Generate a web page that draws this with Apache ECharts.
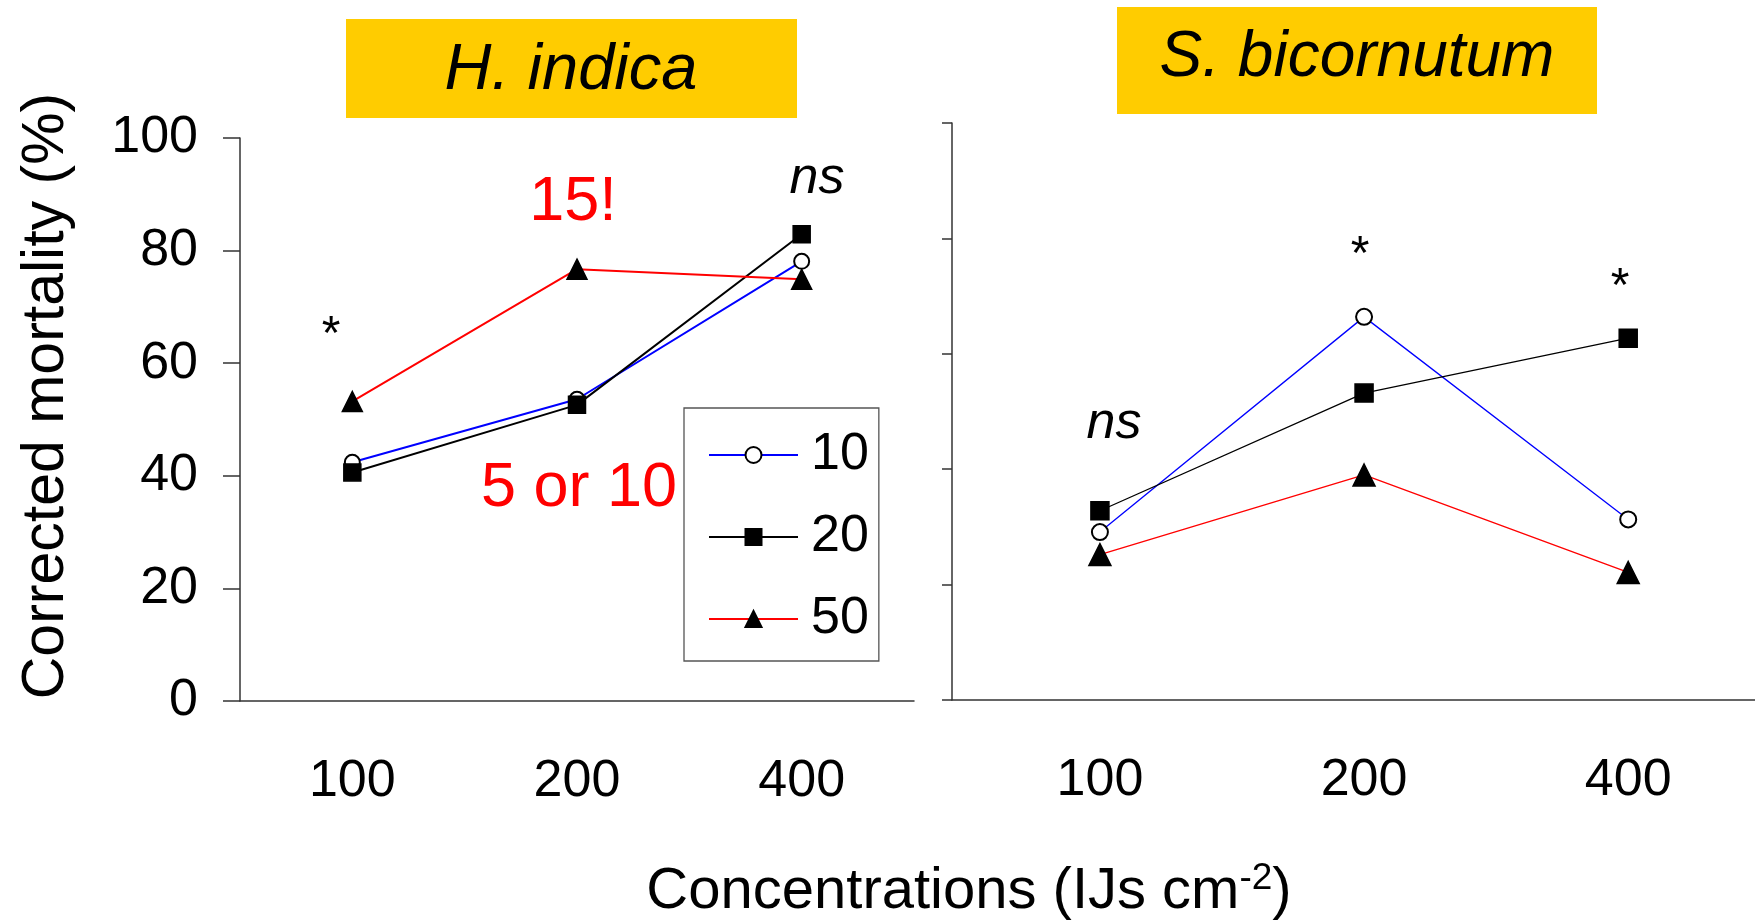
<!DOCTYPE html>
<html><head><meta charset="utf-8">
<script src="https://cdn.jsdelivr.net/npm/echarts@6/dist/echarts.min.js"></script>
<style>html,body{margin:0;padding:0;background:#fff}#c{width:1755px;height:922px}</style>
</head><body><div id="c"></div>
<script>
// ---- data ----
const categories = ['100', '200', '400'];
const seriesNames = ['10', '20', '50'];
const hIndica10 = [42.4, 53.6, 78.1];
const hIndica20 = [40.6, 52.6, 82.9];
const hIndica50 = [53.2, 76.7, 74.9];
const sBicornutum10 = [29.1, 66.4, 31.3];
const sBicornutum20 = [32.8, 53.2, 62.7];
const sBicornutum50 = [25.2, 39.0, 22.1];
const yMin = 0, yMax = 100, yStep = 20;
const panelTitles = ['H. indica', 'S. bicornutum'];
const yAxisName = 'Corrected mortality (%)';
const xAxisNameMain = 'Concentrations (IJs cm';
const xAxisNameSup = '-2';
const leftNotes = ['*', 'ns', '15!', '5 or 10'];
const rightNotes = ['ns', '*', '*'];

// ---- styles ----
const REG = "'Liberation Sans', Arial, sans-serif";
const NAR = "'Liberation Sans Narrow', 'Arial Narrow', 'Liberation Sans', sans-serif";
const AX = '#333';
const lineColors = ['#0000FF', '#000000', '#FF0000'];
const symbols = ['emptyCircle', 'rect', 'triangle'];
const symSizes = [[15, 17, 20], [16, 18, 22]];

const chart = echarts.init(document.getElementById('c'), null, {renderer: 'canvas'});

function mkSeries(vals, i, panel) {
  return {
    type: 'line', name: seriesNames[i],
    xAxisIndex: panel, yAxisIndex: panel,
    data: panel === 0 ? vals : vals.map((v, k) => [k, v]),
    symbol: symbols[i], symbolSize: symSizes[panel][i],
    showAllSymbol: true,
    itemStyle: {color: '#000', borderColor: '#000', borderWidth: 1.5},
    lineStyle: {color: lineColors[i], width: panel === 0 ? 2 : 1.3},
    emphasis: {disabled: true}, animation: false, z: 3
  };
}

const yAxisCommon = {
  type: 'value', min: yMin, max: yMax, interval: yStep,
  splitLine: {show: false},
  axisLine: {show: true, onZero: false, lineStyle: {color: AX, width: 1.5}},
  axisTick: {show: true, inside: false, lineStyle: {color: AX, width: 1.5}}
};

const option = {
  backgroundColor: '#fff',
  animation: false,
  grid: [
    {left: 240, top: 138, width: 674, height: 563},
    {left: 952, top: 123, width: 803, height: 577}
  ],
  xAxis: [
    {
      type: 'category', gridIndex: 0, data: categories, boundaryGap: true,
      axisLine: {onZero: false, lineStyle: {color: AX, width: 1.5}},
      axisTick: {show: false},
      axisLabel: {fontFamily: NAR, fontSize: 52, color: '#000', margin: 55}
    },
    {
      type: 'value', gridIndex: 1, min: -0.56, max: 2.48,
      splitLine: {show: false},
      axisLine: {onZero: false, lineStyle: {color: AX, width: 1.5}},
      axisTick: {show: false},
      axisLabel: {
        fontFamily: NAR, fontSize: 52, color: '#000', margin: 55,
        customValues: [0, 1, 2],
        formatter: v => categories[Math.round(v)]
      }
    }
  ],
  yAxis: [
    Object.assign({}, yAxisCommon, {
      gridIndex: 0,
      axisTick: {show: true, length: 17, lineStyle: {color: AX, width: 1.5}},
      axisLabel: {fontFamily: NAR, fontSize: 52, color: '#000', margin: 42}
    }),
    Object.assign({}, yAxisCommon, {
      gridIndex: 1,
      axisTick: {show: true, length: 10, lineStyle: {color: AX, width: 1.5}},
      axisLabel: {show: false}
    })
  ],
  legend: {
    orient: 'vertical', left: 684, top: 408,
    padding: [17, 10, 12, 24], itemGap: 22,
    itemWidth: 89, itemHeight: 20,
    borderColor: '#555', borderWidth: 1.3,
    selectedMode: false,
    textStyle: {fontFamily: NAR, fontSize: 52, color: '#000', lineHeight: 60, padding: [0, 0, 0, 8]},
    data: seriesNames
  },
  series: [
    mkSeries(hIndica10, 0, 0), mkSeries(hIndica20, 1, 0), mkSeries(hIndica50, 2, 0),
    mkSeries(sBicornutum10, 0, 1), mkSeries(sBicornutum20, 1, 1), mkSeries(sBicornutum50, 2, 1)
  ],
  graphic: [
    {type: 'rect', shape: {x: 346, y: 19, width: 451, height: 99}, style: {fill: '#FFCC00'}, z: 1},
    {type: 'text', x: 571, y: 71, style: {text: panelTitles[0], font: "italic 65px 'Liberation Sans', Arial, sans-serif", fill: '#000', align: 'center', verticalAlign: 'middle'}, z: 2},
    {type: 'rect', shape: {x: 1117, y: 7, width: 480, height: 107}, style: {fill: '#FFCC00'}, z: 1},
    {type: 'text', x: 1357, y: 58, style: {text: panelTitles[1], font: "italic 64px 'Liberation Sans', Arial, sans-serif", fill: '#000', align: 'center', verticalAlign: 'middle'}, z: 2},
    {type: 'text', x: 47, y: 396, rotation: Math.PI / 2, style: {text: yAxisName, font: "59px 'Liberation Sans', Arial, sans-serif", fill: '#000', align: 'center', verticalAlign: 'middle'}},
    {type: 'text', x: 969, y: 892, style: {
      text: '{a|' + xAxisNameMain + '}{s|' + xAxisNameSup + '}{a|)}',
      align: 'center', verticalAlign: 'middle',
      rich: {
        a: {fontFamily: REG, fontSize: 58, lineHeight: 64, fill: '#000', color: '#000'},
        s: {fontFamily: REG, fontSize: 37, lineHeight: 40, verticalAlign: 'top', fill: '#000', color: '#000'}
      }
    }},
    // panel annotations
    {type: 'text', x: 331, y: 336, style: {text: leftNotes[0], font: "48px 'Liberation Sans', Arial, sans-serif", fill: '#000', align: 'center', verticalAlign: 'middle'}},
    {type: 'text', x: 817, y: 179, style: {text: leftNotes[1], font: "italic 52px 'Liberation Sans', Arial, sans-serif", fill: '#000', align: 'center', verticalAlign: 'middle'}},
    {type: 'text', x: 573, y: 203, style: {text: leftNotes[2], font: "63px 'Liberation Sans', Arial, sans-serif", fill: '#FF0000', align: 'center', verticalAlign: 'middle'}},
    {type: 'text', x: 579, y: 489, style: {text: leftNotes[3], font: "63px 'Liberation Sans', Arial, sans-serif", fill: '#FF0000', align: 'center', verticalAlign: 'middle'}},
    {type: 'text', x: 1114, y: 424, style: {text: rightNotes[0], font: "italic 52px 'Liberation Sans', Arial, sans-serif", fill: '#000', align: 'center', verticalAlign: 'middle'}},
    {type: 'text', x: 1360, y: 256, style: {text: rightNotes[1], font: "48px 'Liberation Sans', Arial, sans-serif", fill: '#000', align: 'center', verticalAlign: 'middle'}},
    {type: 'text', x: 1620, y: 288, style: {text: rightNotes[2], font: "48px 'Liberation Sans', Arial, sans-serif", fill: '#000', align: 'center', verticalAlign: 'middle'}}
  ]
};
chart.setOption(option);
</script>
</body></html>
